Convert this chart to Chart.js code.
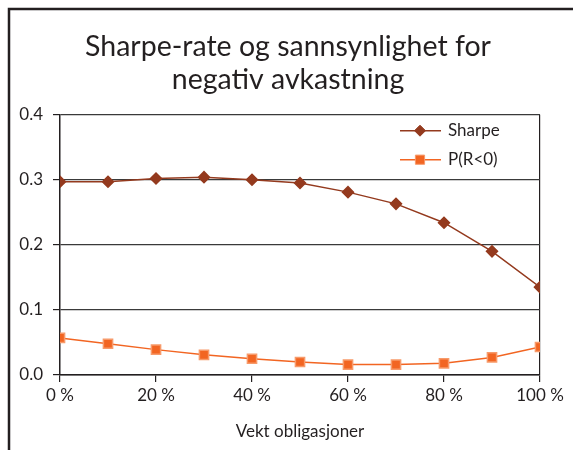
<!DOCTYPE html>
<html>
<head>
<meta charset="utf-8">
<script src="https://cdn.jsdelivr.net/npm/chart.js@4.4.0/dist/chart.umd.min.js"></script>
<style>
html, body { margin: 0; padding: 0; background: #fff; }
</style>
</head>
<body>
<canvas id="myChart" width="573" height="450"></canvas>
<script>
// vekt obligasjoner (%)
const vekt = [0, 10, 20, 30, 40, 50, 60, 70, 80, 90, 100];
const sharpe = [0.297, 0.297, 0.302, 0.304, 0.300, 0.295, 0.281, 0.263, 0.234, 0.190, 0.135];
const pNeg = [0.057, 0.048, 0.039, 0.031, 0.025, 0.020, 0.016, 0.016, 0.018, 0.027, 0.043];
const seriesNames = ['Sharpe', 'P(R<0)'];
const titleLines = ['Sharpe-rate og sannsynlighet for', 'negativ avkastning'];

const fontFam = 'Lato, "Open Sans", sans-serif';
const textColor = '#231f20';

// hvit bakgrunn og ramme rundt hele figuren
const framePlugin = {
    id: 'frame',
    beforeDraw: function (chart) {
        const ctx = chart.ctx;
        ctx.save();
        ctx.fillStyle = '#fff';
        ctx.fillRect(0, 0, chart.width, chart.height);
        ctx.strokeStyle = '#231f20';
        ctx.lineWidth = 2.5;
        ctx.strokeRect(9, 9, chart.width + 40, chart.height + 40);
        ctx.restore();
    }
};

// legende inne i plottet, oppe til hoyre
const insideLegend = {
    id: 'insideLegend',
    afterDatasetsDraw: function (chart) {
        const ctx = chart.ctx;
        const area = chart.chartArea;
        ctx.save();
        chart.data.datasets.forEach((ds, i) => {
            const y = area.top + 16 + i * 29;
            const x0 = area.right - 140;
            ctx.strokeStyle = ds.borderColor;
            ctx.lineWidth = 1.5;
            ctx.beginPath();
            ctx.moveTo(x0, y);
            ctx.lineTo(x0 + 41, y);
            ctx.stroke();
            ctx.fillStyle = ds.pointBackgroundColor;
            ctx.strokeStyle = ds.pointBorderColor;
            ctx.lineWidth = 1;
            Chart.helpers.drawPoint(ctx, { pointStyle: ds.pointStyle, radius: ds.pointRadius, rotation: 0, borderWidth: 1 }, x0 + 20, y);
            ctx.fillStyle = textColor;
            ctx.font = '17px ' + fontFam;
            ctx.textBaseline = 'middle';
            ctx.textAlign = 'left';
            ctx.fillText(ds.label, x0 + 48, y);
        });
        ctx.restore();
    }
};

const data = {
    datasets: [
        {
            label: seriesNames[0],
            data: vekt.map((v, i) => ({ x: v, y: sharpe[i] })),
            borderColor: '#943a1e',
            backgroundColor: '#943a1e',
            pointBackgroundColor: '#943a1e',
            pointBorderColor: '#943a1e',
            pointStyle: 'rectRot',
            pointRadius: 5.5,
            borderWidth: 1.5,
            tension: 0
        },
        {
            label: seriesNames[1],
            data: vekt.map((v, i) => ({ x: v, y: pNeg[i] })),
            borderColor: '#f26522',
            backgroundColor: '#f26522',
            pointBackgroundColor: '#f26522',
            pointBorderColor: '#f79a6a',
            pointStyle: 'rect',
            pointRadius: 6.5,
            borderWidth: 1.5,
            tension: 0
        }
    ]
};

const config = {
    type: 'line',
    data: data,
    plugins: [framePlugin, insideLegend],
    options: {
        responsive: false,
        animation: false,
        layout: { padding: { left: 18, right: 15, top: 0, bottom: 0 } },
        plugins: {
            legend: { display: false },
            tooltip: { enabled: false },
            title: {
                display: true,
                text: titleLines,
                color: textColor,
                font: { family: fontFam, size: 28.5, weight: 'normal', lineHeight: 1.17 },
                padding: { top: 30, bottom: 18 }
            }
        },
        scales: {
            x: {
                type: 'linear',
                min: 0,
                max: 100,
                ticks: {
                    stepSize: 20,
                    color: textColor,
                    padding: 3,
                    font: { family: fontFam, size: 17 },
                    callback: function (v) { return v + ' %'; }
                },
                grid: {
                    color: function (c) { return c.tick && c.tick.value === 100 ? '#231f20' : 'rgba(0,0,0,0)'; },
                    tickColor: '#231f20',
                    tickLength: 7,
                    lineWidth: 1.2
                },
                border: { color: '#231f20', width: 1.5 },
                title: {
                    display: true,
                    text: 'Vekt obligasjoner',
                    color: textColor,
                    font: { family: fontFam, size: 17 },
                    padding: { top: 4, bottom: 8 }
                },
                afterFit: function (scale) { scale.height = 75; }
            },
            y: {
                min: 0,
                max: 0.4,
                ticks: {
                    stepSize: 0.1,
                    color: textColor,
                    padding: 10,
                    font: { family: fontFam, size: 17 },
                    callback: function (v) { return v.toFixed(1); }
                },
                grid: {
                    color: '#3a3a3a',
                    tickColor: '#231f20',
                    tickLength: 7,
                    lineWidth: 1.2
                },
                border: { color: '#231f20', width: 1.5 },
                afterFit: function (scale) { scale.width = 42; }
            },
            // tom akse til hoyre, bare for plass
            yPad: {
                position: 'right',
                min: 0,
                max: 0.4,
                ticks: { display: false },
                grid: { display: false },
                border: { display: false },
                afterFit: function (scale) { scale.width = 18; }
            }
        }
    }
};

var myChart = new Chart(document.getElementById('myChart'), config);
</script>
</body>
</html>
